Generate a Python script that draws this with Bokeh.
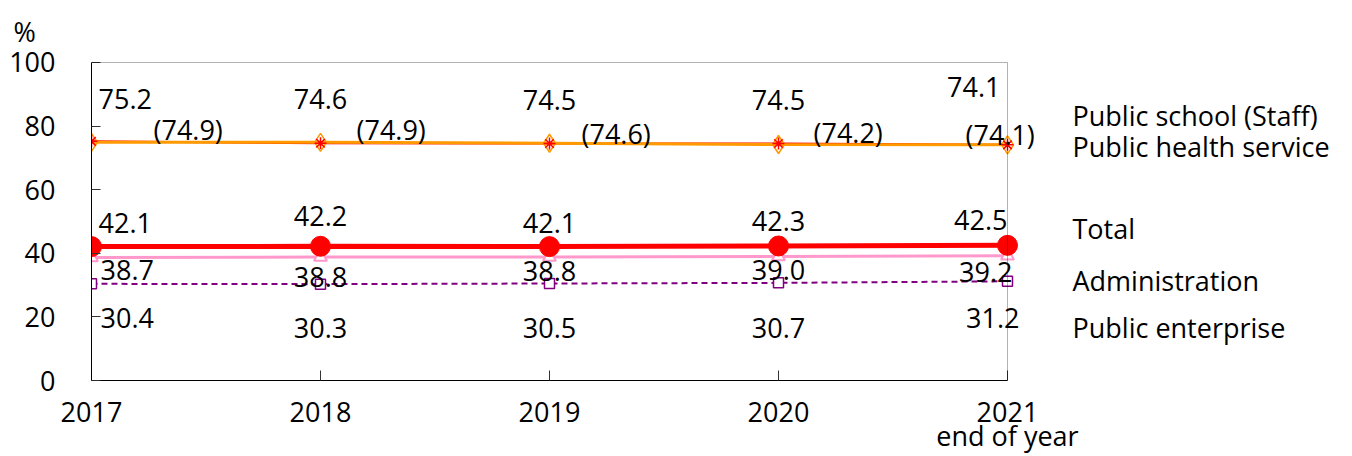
from bokeh.plotting import figure
from bokeh.models import Range1d, FixedTicker, Label, BoxAnnotation, Title
from bokeh.embed import file_html
from bokeh.resources import INLINE

# ---------------- data ----------------
years = [2017, 2018, 2019, 2020, 2021]
school = [75.2, 74.6, 74.5, 74.5, 74.1]
health = [74.9, 74.9, 74.6, 74.2, 74.1]
total = [42.1, 42.2, 42.1, 42.3, 42.5]
admin = [38.7, 38.8, 38.8, 39.0, 39.2]
enterprise = [30.4, 30.3, 30.5, 30.7, 31.2]
y_ticks = [0, 20, 40, 60, 80, 100]
x_tick_labels = ["2017", "2018", "2019", "2020", "2021\nend of year"]
series_names = ["Public school (Staff)", "Public health service", "Total",
                "Administration", "Public enterprise"]
unit = "%"

# ---------------- style / layout ----------------
FONT = "Open Sans"
FS = "27px"
W, H = 1352, 456
BOX_L, BOX_R, BOX_T, BOX_B = 91, 1007, 61, 380   # pixel edges of the drawn box
Y_MAX = 100
# plot frame spans to the right edge (and 2px above the box) so that
# outside labels and the box's top edge are not clipped
x_end = years[0] + (years[-1] - years[0]) * (W - BOX_L) / (BOX_R - BOX_L)
TOP_PAD = 2
y_end = Y_MAX * (BOX_B - BOX_T + TOP_PAD) / (BOX_B - BOX_T)

p = figure(width=W, height=H, output_backend="svg", toolbar_location=None,
           x_range=Range1d(years[0], x_end), y_range=Range1d(0, y_end),
           min_border_left=BOX_L, min_border_right=0,
           min_border_top=BOX_T - TOP_PAD, min_border_bottom=H - BOX_B)
p.outline_line_color = None
p.xgrid.visible = False
p.ygrid.visible = False
p.background_fill_color = "white"
p.border_fill_color = "white"

for ax in (p.xaxis[0], p.yaxis[0]):
    ax.axis_line_color = "black"
    ax.major_tick_line_color = "#333333"
    ax.major_tick_out = 0
    ax.minor_tick_line_color = None
    ax.major_label_text_font = FONT
    ax.major_label_text_font_size = FS
    ax.major_label_text_color = "black"

p.yaxis.ticker = FixedTicker(ticks=y_ticks)
p.yaxis.bounds = (0, Y_MAX)
p.yaxis.major_tick_in = 9
p.yaxis.major_label_standoff = 36
p.xaxis.ticker = FixedTicker(ticks=years)
p.xaxis.bounds = (years[0], years[-1])
p.xaxis.major_label_overrides = {y: t for y, t in zip(years, x_tick_labels)}
p.xaxis.major_label_text_line_height = 0.66
p.xaxis.major_tick_in = 10
p.xaxis.major_label_standoff = 12

p.add_layout(BoxAnnotation(left=years[0], right=years[-1], bottom=0, top=Y_MAX,
                           fill_color=None, line_color="black", line_width=1))

t = Title(text=unit, align="left", offset=-78, standoff=21, text_font=FONT,
          text_font_size=FS, text_font_style="normal", text_color="black")
p.add_layout(t, "above")

# lines + markers
p.line(years, school, line_color="#FF0000", line_width=2)
p.line(years, health, line_color="#FF9900", line_width=3)
p.scatter(years, health, marker="diamond", size=18, fill_color=None,
          line_color="#FF9900", line_width=1.5)
p.scatter(years, school, marker="asterisk", size=12, line_color="#FF0000",
          line_width=1.5)

p.line(years, enterprise, line_color="#800080", line_width=2, line_dash="6 4")
p.scatter(years, enterprise, marker="square", size=10, fill_color="white",
          line_color="#800080", line_width=1.5)

p.line(years, admin, line_color="#FF99CC", line_width=3)
p.scatter(years, admin, marker="triangle", size=13, fill_color="white",
          line_color="#FF99CC", line_width=2)

p.line(years, total, line_color="#FF0000", line_width=5)
p.scatter(years, total, marker="circle", size=20, fill_color="#FF0000",
          line_color="#FF0000")

# value labels: per-point (dx, dy(up), align)
label_styles = [
    (school, "{:.1f}", [(7, 42, "left"), (0, 44, "center"), (0, 44, "center"),
                        (0, 44, "center"), (-7, 58, "right")]),
    (health, "({:.1f})", [(62, 13, "left"), (36, 13, "left"), (32, 10, "left"),
                          (35, 12, "left"), (-42, 10, "left")]),
    (total, "{:.1f}", [(7, 24, "left"), (0, 30, "center"), (0, 24, "center"),
                       (0, 25, "center"), (0, 25, "right")]),
    (admin, "{:.1f}", [(9, -13, "left"), (0, -20, "center"), (0, -14, "center"),
                       (0, -14, "center"), (5, -16, "right")]),
    (enterprise, "{:.1f}", [(9, -34, "left"), (0, -44, "center"), (0, -44, "center"),
                            (0, -45, "center"), (12, -37, "right")]),
]
for vals, fmt, styles in label_styles:
    for x, v, (dx, dy, al) in zip(years, vals, styles):
        p.add_layout(Label(x=x, y=v, text=fmt.format(v), x_offset=dx, y_offset=dy,
                           text_align=al, text_baseline="middle",
                           text_font=FONT, text_font_size=FS, text_color="black"))

# series names on the right
name_y = [83.4, 73.7, 47.8, 31.3, 16.6]
for name, yy in zip(series_names, name_y):
    p.add_layout(Label(x=years[-1], y=yy, text=name, x_offset=65,
                       text_align="left", text_baseline="middle",
                       text_font=FONT, text_font_size=FS, text_color="black"))

open("out.html", "w").write(file_html(p, INLINE))
